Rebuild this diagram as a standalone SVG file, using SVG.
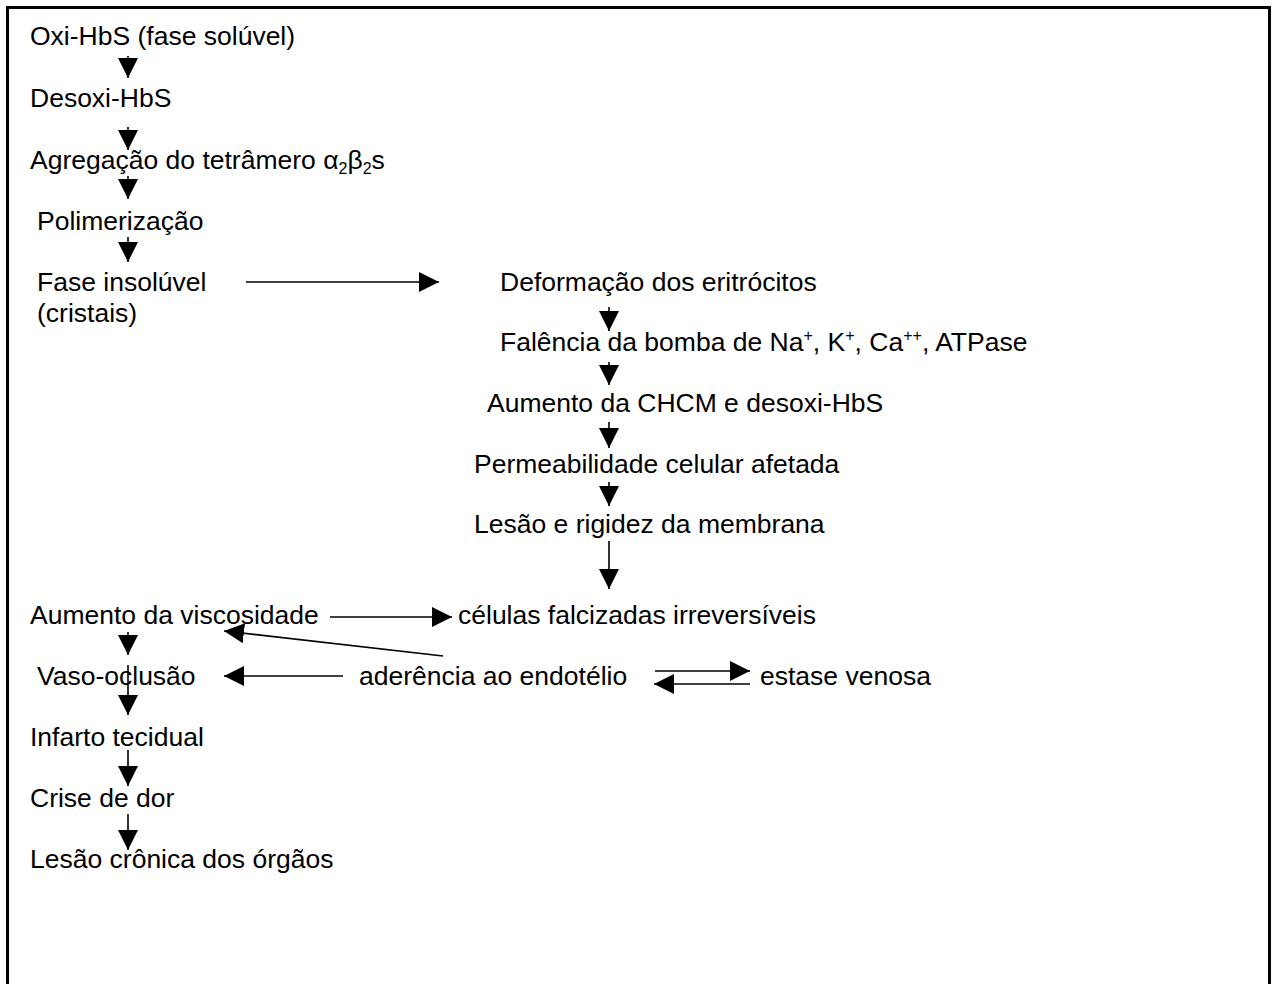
<svg xmlns="http://www.w3.org/2000/svg" width="1275" height="984" viewBox="0 0 1275 984">
<style>
text{font-family:"Liberation Sans",Arial,sans-serif;font-size:26.5px;fill:#000}
.c line{stroke:#000;stroke-width:1.6;fill:none}
.sup{font-size:16px}
</style>
<defs>
<marker id="ah" markerUnits="userSpaceOnUse" markerWidth="21" markerHeight="20" refX="20" refY="10" orient="auto" viewBox="0 0 21 20">
<path d="M0,0 L20,10 L0,20 z" fill="#000"/>
</marker>
</defs>
<rect x="7.5" y="7.5" width="1262" height="1000" fill="#fff" stroke="#000" stroke-width="3"/>
<g id="n1"><text x="30" y="45">Oxi-HbS (fase solúvel)</text></g>
<g id="n2"><text x="30" y="107">Desoxi-HbS</text></g>
<g id="n3"><text x="30" y="169">Agregação do tetrâmero α<tspan class="sup" dy="5">2</tspan><tspan dy="-5">β</tspan><tspan class="sup" dy="5">2</tspan><tspan dy="-5">s</tspan></text></g>
<g id="n4"><text x="37" y="230">Polimerização</text></g>
<g id="n5"><text x="37" y="291">Fase insolúvel</text><text x="37" y="322">(cristais)</text></g>
<g id="n6"><text x="500" y="291">Deformação dos eritrócitos</text></g>
<g id="n7"><text x="500" y="351">Falência da bomba de Na<tspan class="sup" dy="-10">+</tspan><tspan dy="10">, K</tspan><tspan class="sup" dy="-10">+</tspan><tspan dy="10">, Ca</tspan><tspan class="sup" dy="-10">++</tspan><tspan dy="10">, ATPase</tspan></text></g>
<g id="n8"><text x="487" y="412">Aumento da CHCM e desoxi-HbS</text></g>
<g id="n9"><text x="474" y="473">Permeabilidade celular afetada</text></g>
<g id="n10"><text x="474" y="533">Lesão e rigidez da membrana</text></g>
<g id="n11"><text x="30" y="624">Aumento da viscosidade</text></g>
<g id="n12"><text x="458" y="624">células falcizadas irreversíveis</text></g>
<g id="n13"><text x="37" y="685">Vaso-oclusão</text></g>
<g id="n14"><text x="359" y="685">aderência ao endotélio</text></g>
<g id="n15"><text x="760" y="685">estase venosa</text></g>
<g id="n16"><text x="30" y="746">Infarto tecidual</text></g>
<g id="n17"><text x="30" y="807">Crise de dor</text></g>
<g id="n18"><text x="30" y="868">Lesão crônica dos órgãos</text></g>
<g class="c" id="connectors">
<line x1="128" y1="56" x2="128" y2="78" marker-end="url(#ah)"/>
<line x1="128" y1="127" x2="128" y2="150" marker-end="url(#ah)"/>
<line x1="128" y1="176" x2="128" y2="199" marker-end="url(#ah)"/>
<line x1="128" y1="237" x2="128" y2="262" marker-end="url(#ah)"/>
<line x1="246" y1="282" x2="439" y2="282" marker-end="url(#ah)"/>
<line x1="609" y1="307" x2="609" y2="331" marker-end="url(#ah)"/>
<line x1="609" y1="362" x2="609" y2="385" marker-end="url(#ah)"/>
<line x1="609" y1="422" x2="609" y2="448" marker-end="url(#ah)"/>
<line x1="609" y1="482" x2="609" y2="506" marker-end="url(#ah)"/>
<line x1="609" y1="541" x2="609" y2="589" marker-end="url(#ah)"/>
<line x1="330" y1="617" x2="452" y2="617" marker-end="url(#ah)"/>
<line x1="443" y1="656" x2="224" y2="631" marker-end="url(#ah)"/>
<line x1="343" y1="676" x2="224" y2="676" marker-end="url(#ah)"/>
<line x1="655" y1="671" x2="750" y2="671" marker-end="url(#ah)"/>
<line x1="750" y1="684" x2="654" y2="684" marker-end="url(#ah)"/>
<line x1="128" y1="632" x2="128" y2="655" marker-end="url(#ah)"/>
<line x1="128" y1="665" x2="128" y2="715" marker-end="url(#ah)"/>
<line x1="128" y1="750" x2="128" y2="786" marker-end="url(#ah)"/>
<line x1="128" y1="814" x2="128" y2="850" marker-end="url(#ah)"/>
</g>
</svg>
